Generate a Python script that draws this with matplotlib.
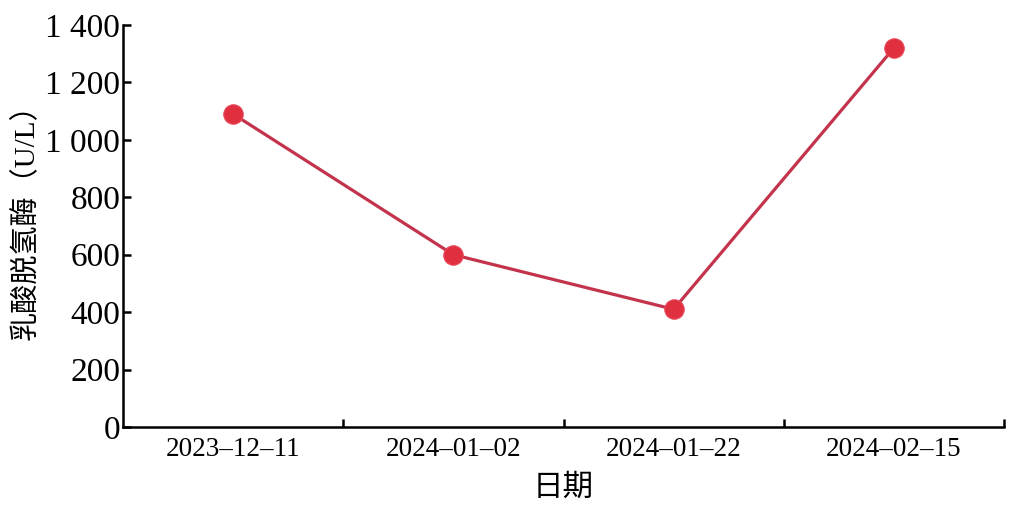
import matplotlib
import matplotlib.pyplot as plt
from matplotlib.ticker import FuncFormatter, FixedLocator

dates = ["2023-12-11", "2024-01-02", "2024-01-22", "2024-02-15"]
ldh = [1090, 600, 410, 1320]
y_ticks = [0, 200, 400, 600, 800, 1000, 1200, 1400]

plt.rcParams["font.family"] = ["Liberation Serif", "Noto Sans CJK SC"]

fig = plt.figure(figsize=(10.22, 5.09), dpi=100)
ax = fig.add_axes([123 / 1022, 1 - 427 / 509, (1004 - 123) / 1022, (427 - 25) / 509])

x = list(range(len(dates)))
ax.plot(x, ldh, color="#C3344C", lw=2.3, zorder=2)
ax.plot(x, ldh, ls="none", marker="o", ms=14, color="#E0303F",
        markeredgecolor="#E8485A", markeredgewidth=0.8, zorder=3)

ax.set_xlim(-0.5, len(dates) - 0.5)
ax.set_ylim(0, 1400)
ax.set_xticks(x)
ax.set_xticklabels([d.replace("-", "–") for d in dates])
ax.xaxis.set_minor_locator(FixedLocator([0.5, 1.5, 2.5, 3.5]))
ax.set_yticks(y_ticks)
ax.yaxis.set_major_formatter(FuncFormatter(lambda v, p: f"{int(v):,}".replace(",", " ")))

ax.tick_params(axis="x", which="major", length=0, labelsize=19.5, pad=7)
ax.tick_params(axis="x", which="minor", direction="in", length=6, width=1.8)
ax.tick_params(axis="y", direction="in", length=6, width=1.8, labelsize=24, pad=2)

for s in ["top", "right"]:
    ax.spines[s].set_visible(False)
for s in ["left", "bottom"]:
    ax.spines[s].set_linewidth(1.8)

ax.set_xlabel("日期", fontsize=22, labelpad=9)
ax.set_ylabel("乳酸脱氢酶（U/L）", fontsize=21)
ax.yaxis.set_label_coords(-0.094, 0.527)

fig.savefig("out.png", dpi=100)
